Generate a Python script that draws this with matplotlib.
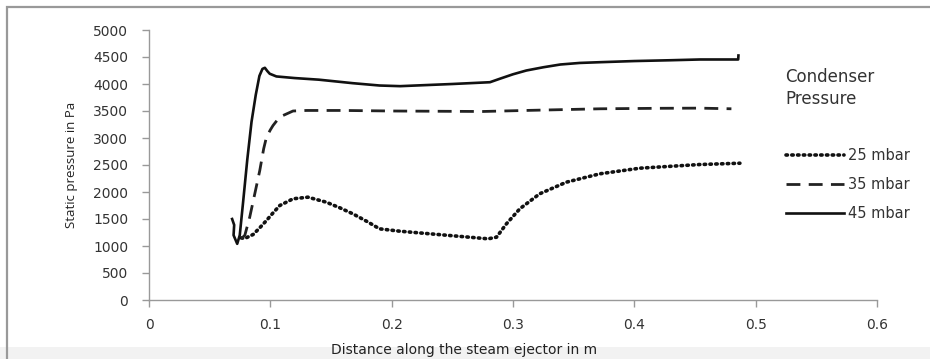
import matplotlib
matplotlib.use("Agg")
import matplotlib.pyplot as plt
from matplotlib.patches import Rectangle

# ---- data ----
x_25 = [0.076, 0.079, 0.0858, 0.091, 0.0968, 0.1025, 0.1078, 0.1187, 0.131, 0.146, 0.157,
        0.168, 0.18, 0.19, 0.2067, 0.248, 0.2795, 0.2864, 0.2946, 0.3056, 0.322, 0.344,
        0.3716, 0.4045, 0.454, 0.487]
y_25 = [1150, 1140, 1213, 1330, 1472, 1620, 1750, 1874, 1904, 1812, 1710,
        1596, 1450, 1318, 1274, 1194, 1133, 1163, 1411, 1689, 1967, 2182,
        2337, 2441, 2509, 2533]

x_35 = [0.076, 0.079, 0.083, 0.0875, 0.0913, 0.0945, 0.0968, 0.1, 0.1022, 0.106, 0.1105,
        0.1187, 0.13, 0.16, 0.20, 0.24, 0.275, 0.31, 0.35, 0.372, 0.42, 0.454, 0.480]
y_35 = [1133, 1200, 1533, 2000, 2398, 2800, 3015, 3150, 3231, 3340, 3417,
        3500, 3510, 3510, 3500, 3495, 3491, 3510, 3530, 3541, 3550, 3553, 3541]

x_45 = [0.0685, 0.0702, 0.0697, 0.0727, 0.0748, 0.0775, 0.081, 0.0845, 0.088, 0.091, 0.0935,
        0.0955, 0.0975, 0.0995, 0.105, 0.12, 0.14, 0.168, 0.19, 0.207, 0.223, 0.25, 0.281,
        0.289, 0.30, 0.311, 0.325, 0.339, 0.355, 0.372, 0.40, 0.43, 0.454, 0.4856, 0.4858]
y_45 = [1500, 1390, 1200, 1040, 1200, 1800, 2600, 3300, 3800, 4150, 4280,
        4300, 4240, 4190, 4140, 4110, 4080, 4015, 3972, 3960, 3975, 4000, 4033,
        4096, 4180, 4250, 4310, 4361, 4390, 4404, 4425, 4440, 4454, 4454, 4528]

series_labels = ["25 mbar", "35 mbar", "45 mbar"]
x_ticks = [0, 0.1, 0.2, 0.3, 0.4, 0.5, 0.6]
x_tick_labels = ["0", "0.1", "0.2", "0.3", "0.4", "0.5", "0.6"]
y_ticks = [0, 500, 1000, 1500, 2000, 2500, 3000, 3500, 4000, 4500, 5000]
x_label = "Distance along the steam ejector in m"
y_label = "Static pressure in Pa"
legend_title = "Condenser\nPressure"

W, H = 930, 359
fig = plt.figure(figsize=(W / 100, H / 100), dpi=100)
fig.patch.set_facecolor("white")

# outer frame and bottom shading
fig.patches.append(Rectangle((0, 0), 1, 12 / H, transform=fig.transFigure,
                             facecolor="#f2f2f2", edgecolor="none", zorder=0))
fig.patches.append(Rectangle((7 / W, -0.05), 1.1, 1 - 7 / H + 0.05, transform=fig.transFigure,
                             facecolor="none", edgecolor="#999999", lw=1.6, zorder=1))

left, right, top, bottom = 149, 877, 30, 300
ax = fig.add_axes([left / W, 1 - bottom / H, (right - left) / W, (bottom - top) / H])
ax.set_facecolor("none")

ax.plot(x_25, y_25, color="#111111", lw=2.6, linestyle=(0, (0.4, 1.2)),
        dash_capstyle="round", label=series_labels[0])
ax.plot(x_35, y_35, color="#222222", lw=2.0, linestyle=(0, (5.0, 3.0)),
        label=series_labels[1])
ax.plot(x_45, y_45, color="#111111", lw=1.9, linestyle="-", label=series_labels[2])

ax.set_xlim(0, 0.6)
ax.set_ylim(0, 5000)
ax.set_xticks(x_ticks)
ax.set_xticklabels(x_tick_labels)
ax.set_yticks(y_ticks)
for s in ["top", "right"]:
    ax.spines[s].set_visible(False)
for s in ["left", "bottom"]:
    ax.spines[s].set_color("#999999")
    ax.spines[s].set_linewidth(1.0)
ax.tick_params(axis="both", direction="out", length=5, width=1.0, color="#999999",
               labelsize=10, labelcolor="#333333")
ax.tick_params(axis="y", pad=10)
ax.tick_params(axis="x", pad=8)
for t in ax.get_xticklabels() + ax.get_yticklabels():
    t.set_fontfamily("DejaVu Sans")

fig.text(464 / W, 1 - 350 / H, x_label, ha="center", va="center",
         fontsize=10, family="DejaVu Sans", color="#222222")
fig.text(71 / W, 1 - 165 / H, y_label, ha="center", va="center", rotation=90,
         fontsize=9.5, family="Open Sans", color="#222222")

fig.text(785 / W, 1 - 88 / H, legend_title, ha="left", va="center",
         fontsize=12, family="DejaVu Sans", color="#333333", linespacing=1.25)

leg = ax.legend(loc="upper left", bbox_to_anchor=(786 / W, 1 - 148 / H),
                bbox_transform=fig.transFigure, frameon=False,
                handlelength=4.0, handletextpad=0.25, labelspacing=0.95,
                borderpad=0, borderaxespad=0, prop={"family": "DejaVu Sans", "size": 10.5})
for t in leg.get_texts():
    t.set_color("#333333")

fig.savefig("out.png", dpi=100, facecolor="white")
